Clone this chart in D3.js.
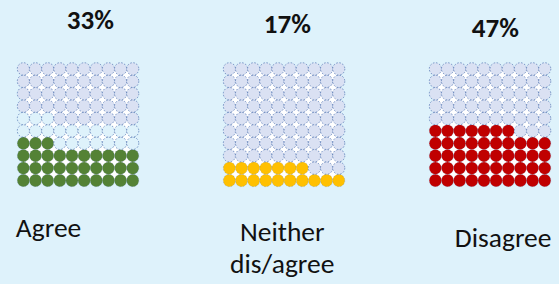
<!DOCTYPE html>
<html>
<head>
<meta charset="utf-8">
<script src="https://cdn.jsdelivr.net/npm/d3@7"></script>
<style>
  body { margin: 0; background: #def2fb; }
  svg { display: block; font-family: Carlito, Calibri, Lato, sans-serif; }
</style>
</head>
<body>
<div id="chart"></div>
<script>
// waffle values, out of 100 cells each
const categories = ["Agree", "Neither dis/agree", "Disagree"]
const percents = [33, 17, 47]
// cells from this index upward get the lavender fill (the rest stay pale)
const shadeFrom = [53, 17, 47]
const pctLabels = ["33%", "17%", "47%"]
const labelLines = [["Agree"], ["Neither", "dis/agree"], ["Disagree"]]

const fillColors = ["#548235", "#ffc000", "#c00000"]

let width = 559, height = 284
let gridW = 121.5, gridH = 124, gridTop = 62.7

// label placement, relative to each grid's left edge
let pctPos = [{dx: 73, y: 29}, {dx: 64, y: 33}, {dx: 66, y: 37}]
let catPos = [{dx: -1.5, y: 237, anchor: "start"}, {dx: 59, y: 241, anchor: "middle"}, {dx: 25.5, y: 247, anchor: "start"}]

const svg = d3.select('#chart').append('svg')
    .attr('width', width)
    .attr('height', height)

svg.append('rect').attr('width', width).attr('height', height).attr('fill', '#def2fb')

let gx = d3.scalePoint().domain(categories).range([17.3, 429.3])
let col = d3.scaleBand().domain(d3.range(10)).range([0, gridW])
let row = d3.scaleBand().domain(d3.range(10)).range([gridH, 0])   // row 0 at the bottom

categories.forEach((cat, i) => {
    let g = svg.append('g').attr('transform', "translate(" + gx(cat) + "," + gridTop + ")")

    // white shows through the small gaps between the dots
    g.append('rect')
        .attr('x', col.bandwidth() / 2).attr('y', row.bandwidth() / 2)
        .attr('width', gridW - col.bandwidth()).attr('height', gridH - row.bandwidth())
        .attr('fill', '#ffffff')

    let cells = d3.range(100).map(k => ({k: k, c: k % 10, r: Math.floor(k / 10)}))

    g.selectAll('ellipse')
        .data(cells)
        .enter()
        .append('ellipse')
            .attr('cx', d => col(d.c) + col.bandwidth() / 2)
            .attr('cy', d => row(d.r) + row.bandwidth() / 2)
            .attr('rx', col.bandwidth() / 2)
            .attr('ry', row.bandwidth() / 2)
            .attr('fill', d => d.k < percents[i] ? fillColors[i] : (d.k >= shadeFrom[i] ? '#dae1f3' : '#def2fb'))
            .attr('stroke', '#3f64a8')
            .attr('stroke-opacity', d => d.k < percents[i] ? 0.35 : 0.8)
            .attr('stroke-width', 0.8)
            .attr('stroke-dasharray', '1.6 1.6')

    svg.append('text')
        .attr('x', gx(cat) + pctPos[i].dx)
        .attr('y', pctPos[i].y)
        .attr('text-anchor', 'middle')
        .style('font-size', '27px')
        .style('font-weight', 'bold')
        .attr('fill', '#111')
        .text(pctLabels[i])

    let t = svg.append('text')
        .attr('x', gx(cat) + catPos[i].dx)
        .attr('y', catPos[i].y)
        .attr('text-anchor', catPos[i].anchor)
        .style('font-size', '27.5px')
        .attr('fill', '#111')
    labelLines[i].forEach((line, j) => {
        t.append('tspan')
            .attr('x', gx(cat) + catPos[i].dx)
            .attr('dy', j == 0 ? 0 : 32)
            .text(line)
    })
})
</script>
</body>
</html>
